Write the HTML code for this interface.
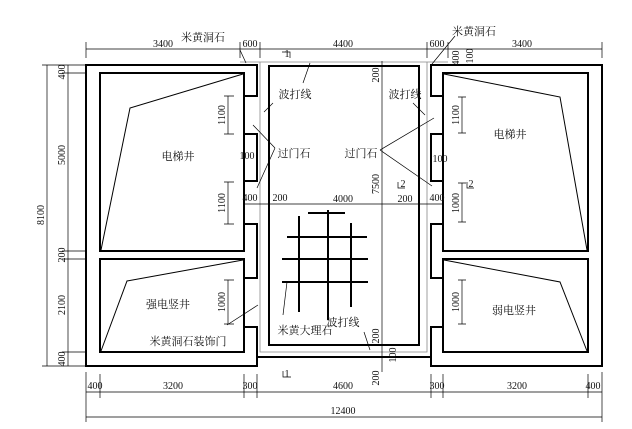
<!DOCTYPE html>
<html><head><meta charset="utf-8"><style>
html,body{margin:0;padding:0;background:#fff;}
svg{display:block;}
text{font-family:"Liberation Serif","Noto Serif CJK SC",serif;fill:#111;}
.c{font-size:11px;}
.d{font-size:10px;}
</style></head><body>
<svg width="632" height="429" viewBox="0 0 632 429" xmlns="http://www.w3.org/2000/svg">
<rect width="632" height="429" fill="#fff"/>
<g stroke="#888" stroke-width="0.8" fill="none">
<path d="M240,62 H448"/>
<path d="M260,62 V352 H427 V62"/>
<path d="M244,96 H257 M244,134 H257 M244,181 H257 M244,224 H257 M244,278 H257 M244,327 H257"/>
<path d="M431,96 H443 M431,134 H443 M431,181 H443 M431,224 H443 M431,278 H443 M431,327 H443"/>
</g>
<g stroke="#000" stroke-width="2" fill="none">
<path d="M244,96 H257 V65 H86 V366 H257 V327 H244"/>
<path d="M244,134 H257 V181 H244"/>
<path d="M244,224 H257 V278 H244"/>
<rect x="100" y="73" width="144" height="178"/>
<rect x="100" y="259" width="144" height="93"/>
<path d="M443,96 H431 V65 H602 V366 H431 V327 H443"/>
<path d="M443,134 H431 V181 H443"/>
<path d="M443,224 H431 V278 H443"/>
<rect x="443" y="73" width="145" height="178"/>
<rect x="443" y="259" width="145" height="93"/>
<rect x="269" y="66" width="150" height="279"/>
<path d="M257,357 H431"/>
</g>
<g stroke="#000" stroke-width="1" fill="none">
<path d="M243,74 L130,108 L101,250"/>
<path d="M243,260 L127,281 L101,351"/>
<path d="M444,74 L560,97 L587,250"/>
<path d="M444,260 L560,282 L587,351"/>
</g>
<g stroke="#000" stroke-width="2">
<path d="M299,216 V312 M328,210 V320 M351,223 V307"/>
<path d="M308,213 H345 M287,237 H367 M282,259 H368 M282,282 H368"/>
</g>
<g stroke="#000" stroke-width="0.7" fill="none">
<path d="M86,49 H602"/>
<path d="M86,42 V58 M240,42 V58 M260,42 V58 M427,42 V58 M448,42 V58 M602,42 V58"/>
<path d="M47,65 V366 M68,65 V366"/>
<path d="M42,65 H86 M42,366 H86 M62,73 H86 M62,251 H86 M62,259 H86 M62,352 H86"/>
<path d="M86,392 H602 M86,417 H602"/>
<path d="M86,372 V422 M100,374 V398 M244,374 V398 M257,374 V398 M431,374 V398 M443,374 V398 M588,374 V398 M602,372 V422"/>
<path d="M382,61 V372"/>
<path d="M244,204 H443"/>
<path d="M228,96 V134 M228,182 V224 M228,280 V324 M462,97 V133 M462,183 V222 M462,280 V324"/>
<path d="M224,96 H234 M224,134 H234 M224,182 H234 M224,224 H234 M224,280 H234 M224,324 H234"/>
<path d="M458,97 H466 M458,133 H466 M458,183 H466 M458,222 H466 M458,280 H466 M458,324 H466"/>
</g>
<g stroke="#000" stroke-width="0.7" fill="none">
<path d="M240,50 L246,63 M455,36 L432,64"/>
<path d="M310,63 L303,83 M273,103 L264,112 M413,103 L425,115"/>
<path d="M275,148 L253,125 M275,148 L257,188"/>
<path d="M380,150 L434,118 M380,150 L432,186"/>
<path d="M227,325 L258,305 M283,315 L287,282 M364,332 L370,350"/>
<path d="M282,52 H290 V58 M283,371 V377 H291 M398,182 V188 H405 M467,182 V188 H474"/>
</g>
<g class="c">
<text x="178" y="160" text-anchor="middle">电梯井</text>
<text x="510" y="138" text-anchor="middle">电梯井</text>
<text x="168" y="308" text-anchor="middle">强电竖井</text>
<text x="514" y="314" text-anchor="middle">弱电竖井</text>
<text x="188" y="345" text-anchor="middle">米黄洞石装饰门</text>
<text x="305" y="334" text-anchor="middle">米黄大理石</text>
<text x="343" y="326" text-anchor="middle">波打线</text>
<text x="295" y="98" text-anchor="middle">波打线</text>
<text x="405" y="98" text-anchor="middle">波打线</text>
<text x="294" y="157" text-anchor="middle">过门石</text>
<text x="361" y="157" text-anchor="middle">过门石</text>
<text x="203" y="41" text-anchor="middle">米黄洞石</text>
<text x="474" y="35" text-anchor="middle">米黄洞石</text>
</g>
<g class="d" text-anchor="middle">
<text x="163" y="47">3400</text>
<text x="250" y="47">600</text>
<text x="343" y="47">4400</text>
<text x="437" y="47">600</text>
<text x="522" y="47">3400</text>
<text x="287" y="57">1</text>
<text x="287" y="377">1</text>
<text x="403" y="187">2</text>
<text x="471" y="187">2</text>
<text x="95" y="389">400</text>
<text x="173" y="389">3200</text>
<text x="250" y="389">300</text>
<text x="343" y="389">4600</text>
<text x="437" y="389">300</text>
<text x="517" y="389">3200</text>
<text x="593" y="389">400</text>
<text x="343" y="414">12400</text>
<text x="250" y="201">400</text>
<text x="280" y="201">200</text>
<text x="343" y="202">4000</text>
<text x="405" y="202">200</text>
<text x="437" y="201">400</text>
<text x="247" y="159">100</text>
<text x="440" y="162">100</text>
<text transform="translate(44,215) rotate(-90)">8100</text>
<text transform="translate(65,72) rotate(-90)">400</text>
<text transform="translate(65,155) rotate(-90)">5000</text>
<text transform="translate(65,255) rotate(-90)">200</text>
<text transform="translate(65,305) rotate(-90)">2100</text>
<text transform="translate(65,359) rotate(-90)">400</text>
<text transform="translate(225,115) rotate(-90)">1100</text>
<text transform="translate(225,203) rotate(-90)">1100</text>
<text transform="translate(225,302) rotate(-90)">1000</text>
<text transform="translate(459,115) rotate(-90)">1100</text>
<text transform="translate(459,203) rotate(-90)">1000</text>
<text transform="translate(459,302) rotate(-90)">1000</text>
<text transform="translate(379,75) rotate(-90)">200</text>
<text transform="translate(379,184) rotate(-90)">7500</text>
<text transform="translate(379,336) rotate(-90)">200</text>
<text transform="translate(396,355) rotate(-90)">100</text>
<text transform="translate(379,378) rotate(-90)">200</text>
<text transform="translate(459,58) rotate(-90)">400</text>
<text transform="translate(473,56) rotate(-90)">100</text>
</g>
</svg>
</body></html>
